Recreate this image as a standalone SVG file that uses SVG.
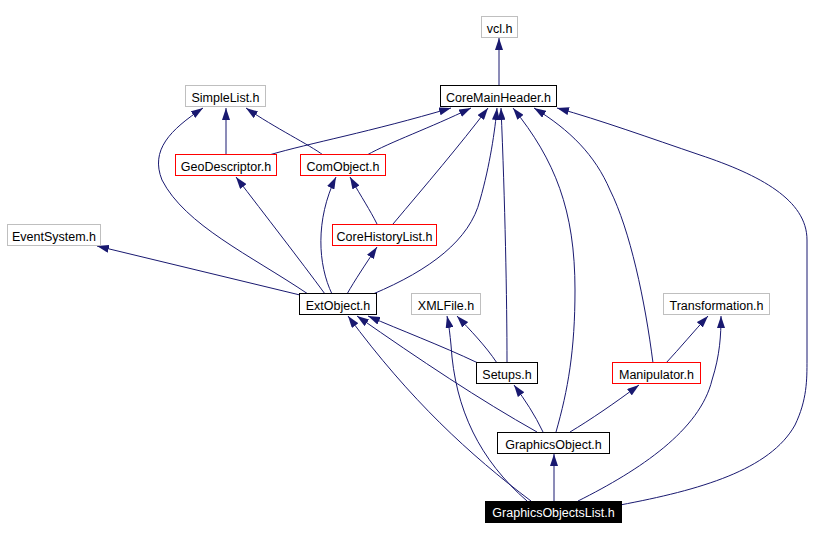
<svg xmlns="http://www.w3.org/2000/svg" width="825" height="540" viewBox="0 0 825 540">
<defs>
<style>
.n rect{fill:#fff;stroke-width:1}
.b rect{stroke:#000}
.r rect{stroke:#ff0000}
.g rect{stroke:#bfbfbf}
.n text{font-family:"Liberation Sans",Arial,sans-serif;font-size:12.5px;text-anchor:middle;fill:#000}
#n_gol rect{fill:#000;stroke:none}
#n_gol text{fill:#fff}
.e path{fill:none;stroke:#191970;stroke-width:1;marker-end:url(#ah)}
</style>
<marker id="ah" viewBox="0 0 12 8" markerWidth="12" markerHeight="8" refX="12" refY="4" orient="auto" markerUnits="userSpaceOnUse">
<path d="M0,0 L12,4 L0,8 z" fill="#191970"/>
</marker>
</defs>
<rect width="825" height="540" fill="#fff"/>
<g id="edges" class="e">
<path d="M499,85 L499,38"/>
<path d="M226,155 L226,108"/>
<path d="M323,155 C310,145 275,128 246,108"/>
<path d="M269,155 C310,143 370,132 451,108"/>
<path d="M367,155 C390,142 430,128 471,108"/>
<path d="M377,224 C370,210 362,198 350,177"/>
<path d="M393,224 C425,186 460,145 488,108"/>
<path d="M347,294 C355,280 365,265 377,247"/>
<path d="M332,294 C318,265 315,220 336,177"/>
<path d="M325,294 C300,260 265,215 236,177"/>
<path d="M308,294 C250,255 185,225 162,180 C150,150 170,130 203,108"/>
<path d="M300,295 L97,246"/>
<path d="M373,294 C430,270 470,240 480,200 C490,165 495,130 497,108"/>
<path d="M507,363 C507,300 505,200 501,108"/>
<path d="M556,432 C568,390 575,350 575,290 C575,210 555,160 513,108"/>
<path d="M653,363 C645,300 630,230 610,190 C595,155 570,130 534,108"/>
<path d="M620,505 C700,490 770,470 795,425 C807,400 807,380 807,360 L807,240 C807,200 760,175 700,155 C650,138 600,120 557,108"/>
<path d="M531,501 C470,455 410,400 348,316"/>
<path d="M537,432 C480,400 420,360 357,316"/>
<path d="M478,363 C440,345 400,330 368,316"/>
<path d="M497,363 C485,345 470,330 457,316"/>
<path d="M527,501 C480,460 455,410 451,345 C450,335 449,325 447,316"/>
<path d="M543,432 C535,415 525,400 514,385"/>
<path d="M554,501 L554,454"/>
<path d="M570,432 C590,420 615,403 639,385"/>
<path d="M666,363 C680,348 695,330 708,316"/>
<path d="M578,501 C640,470 700,430 712,380 C720,355 721,335 721,316"/>
</g>
<g id="n_vcl" class="n g"><rect x="481.5" y="16.5" width="36" height="21"/><text x="499.5" y="32.5">vcl.h</text></g>
<g id="n_cmh" class="n b"><rect x="440.5" y="85.5" width="116" height="21"/><text x="498.5" y="101.5">CoreMainHeader.h</text></g>
<g id="n_sl" class="n g"><rect x="185.5" y="85.5" width="80" height="21"/><text x="225.5" y="101.5">SimpleList.h</text></g>
<g id="n_geo" class="n r"><rect x="175.5" y="154.5" width="101" height="21"/><text x="226" y="170.5">GeoDescriptor.h</text></g>
<g id="n_com" class="n r"><rect x="300.5" y="154.5" width="85" height="21"/><text x="343" y="170.5">ComObject.h</text></g>
<g id="n_evt" class="n g"><rect x="7.5" y="224.5" width="93" height="21"/><text x="54" y="240.5">EventSystem.h</text></g>
<g id="n_chl" class="n r"><rect x="332.5" y="224.5" width="104" height="21"/><text x="384.5" y="240.5">CoreHistoryList.h</text></g>
<g id="n_ext" class="n b"><rect x="299.5" y="293.5" width="77" height="21"/><text x="338" y="309.5">ExtObject.h</text></g>
<g id="n_xml" class="n g"><rect x="411.5" y="293.5" width="69" height="21"/><text x="446" y="309.5">XMLFile.h</text></g>
<g id="n_tr" class="n g"><rect x="663.5" y="293.5" width="106" height="21"/><text x="716.5" y="309.5">Transformation.h</text></g>
<g id="n_set" class="n b"><rect x="476.5" y="362.5" width="61" height="21"/><text x="507" y="378.5">Setups.h</text></g>
<g id="n_man" class="n r"><rect x="612.5" y="362.5" width="88" height="21"/><text x="656.5" y="378.5">Manipulator.h</text></g>
<g id="n_go" class="n b"><rect x="497.5" y="432.5" width="112" height="21"/><text x="553.5" y="448.5">GraphicsObject.h</text></g>
<g id="n_gol" class="n"><rect x="485" y="501" width="137" height="22"/><text x="553.5" y="517">GraphicsObjectsList.h</text></g>
</svg>
